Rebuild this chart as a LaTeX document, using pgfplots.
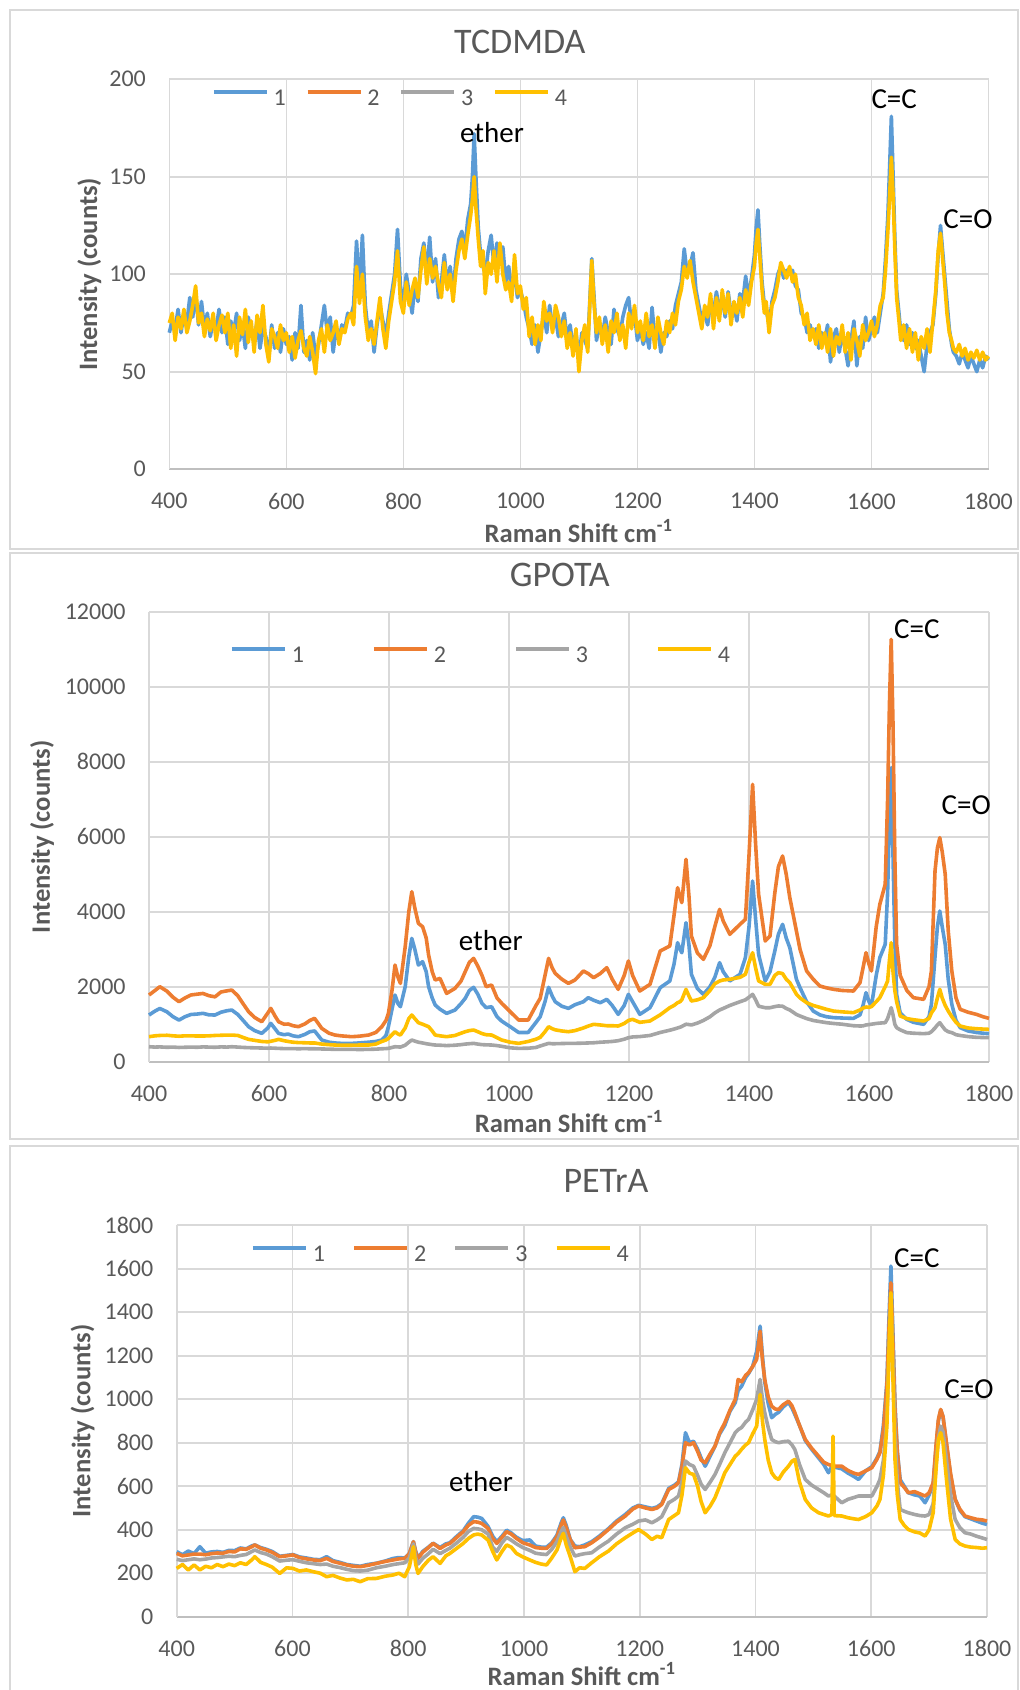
\documentclass[border=0pt]{standalone}
\usepackage{fontspec}
\setmainfont{Carlito}
\usepackage{pgfplots}
\usepackage{pgfplotstable}
\pgfplotsset{compat=1.18}

\definecolor{sone}{HTML}{5B9BD5}
\definecolor{stwo}{HTML}{ED7D31}
\definecolor{sthree}{HTML}{A5A5A5}
\definecolor{sfour}{HTML}{FFC000}
\definecolor{gridgray}{HTML}{D9D9D9}
\definecolor{axisgray}{HTML}{BFBFBF}
\definecolor{txtgray}{HTML}{595959}

% TCDMDA: series 2 and 3 are not visible in the chart
\pgfplotstableread{
x a d
400 70 75
405 76 80
410 72 66
415 82 78
420 70 72
425 80 82
430 75 70
435 88 76
440 78 84
445 90 94
450 74 75
455 86 80
460 72 68
465 80 77
470 68 71
475 76 80
480 72 66
485 82 74
490 70 79
495 78 70
500 64 80
505 76 62
510 70 74
515 80 58
520 66 78
525 74 69
530 62 82
535 78 65
540 70 76
545 66 60
550 76 79
555 62 70
560 72 84
565 68 64
570 58 55
575 74 72
580 62 68
585 70 62
590 60 74
595 72 66
600 64 70
605 68 60
610 56 68
615 70 57
620 62 66
625 84 71
630 60 62
635 66 58
640 56 68
645 70 60
650 58 49
655 64 66
660 74 72
665 84 60
670 70 74
675 78 66
680 60 70
685 72 76
690 66 64
695 74 72
700 72 70
705 80 77
710 78 80
715 84 74
720 117 104
725 90 85
730 120 100
735 84 78
740 70 66
745 76 72
750 60 64
755 74 76
760 84 88
765 76 72
770 68 62
775 80 76
780 90 86
785 100 96
790 123 112
795 94 86
800 84 80
805 100 96
810 90 84
815 80 92
820 96 98
825 86 88
830 108 102
835 116 114
840 100 95
845 119 108
850 96 98
855 108 104
860 88 95
865 96 88
870 110 106
875 94 92
880 104 100
885 90 86
890 108 102
895 118 112
900 122 118
905 112 108
910 128 120
915 136 130
918 150 138
921 172 150
924 150 134
928 124 118
932 110 104
936 104 112
940 100 90
945 112 106
950 120 100
955 104 112
960 116 96
965 108 116
970 114 100
975 96 92
980 104 96
985 92 86
990 100 110
995 88 90
1000 92 94
1005 86 82
1010 78 88
1015 72 68
1020 64 78
1025 74 64
1030 60 74
1035 70 66
1040 80 86
1045 70 76
1050 84 80
1055 72 70
1060 78 84
1065 68 78
1070 74 68
1075 80 76
1080 66 62
1085 74 70
1090 62 58
1095 70 72
1100 56 50
1105 70 66
1110 66 74
1115 62 60
1118 82 80
1122 108 107
1126 88 84
1130 66 70
1135 74 78
1140 68 64
1145 78 74
1150 70 60
1155 64 76
1160 82 70
1165 72 80
1170 68 66
1175 78 74
1180 84 62
1185 88 80
1190 74 72
1195 80 84
1200 66 70
1205 72 76
1210 64 66
1215 70 80
1220 62 68
1225 83 74
1230 66 62
1235 72 78
1240 60 70
1245 70 64
1250 68 76
1255 76 70
1260 72 80
1265 84 74
1270 90 86
1275 96 92
1280 113 104
1285 100 98
1290 104 107
1295 111 96
1300 92 88
1305 84 80
1310 76 72
1315 80 84
1320 74 78
1325 86 90
1330 80 72
1335 91 88
1340 82 76
1345 88 92
1350 78 80
1355 91 90
1360 80 74
1365 84 86
1370 76 80
1375 90 88
1380 86 78
1385 99 92
1390 88 84
1395 98 96
1400 110 104
1403 124 116
1406 133 123
1409 116 110
1413 96 92
1417 84 80
1420 82 86
1425 74 70
1430 86 84
1435 92 88
1440 100 96
1445 104 106
1450 98 102
1455 102 98
1460 100 104
1465 102 96
1470 94 100
1475 92 88
1480 80 84
1485 78 74
1490 70 80
1495 74 66
1500 68 72
1505 72 64
1510 62 74
1515 70 62
1520 66 70
1525 74 60
1530 55 72
1535 68 58
1540 72 68
1545 60 64
1550 70 74
1555 62 60
1560 53 70
1565 66 56
1570 76 72
1575 53 66
1580 68 58
1585 62 74
1590 78 66
1595 66 70
1600 72 76
1605 78 68
1610 70 74
1615 80 84
1620 90 88
1624 108 102
1628 130 122
1631 155 140
1634 181 160
1637 150 140
1640 118 112
1643 92 88
1647 80 76
1650 70 66
1655 66 74
1660 74 62
1665 64 72
1670 70 60
1675 62 70
1680 66 56
1685 58 68
1690 50 62
1695 64 72
1700 70 60
1705 74 76
1710 90 92
1714 110 112
1718 125 121
1721 114 110
1725 100 96
1729 86 80
1733 72 70
1737 64 66
1740 60 62
1745 58 60
1750 54 64
1755 60 58
1760 56 62
1765 52 56
1770 58 60
1775 54 57
1780 50 61
1785 56 56
1790 52 60
1795 58 56
1800 56 58
}\tcdmda

\pgfplotstableread{
x a b c d
400 1245 1778 400 667
410 1350 1900 390 690
418 1420 2000 395 700
430 1330 1880 385 705
440 1200 1720 390 690
450 1110 1600 380 680
460 1200 1700 385 690
470 1260 1780 390 690
480 1270 1800 385 685
490 1290 1820 395 685
500 1250 1760 390 690
510 1245 1730 385 700
520 1320 1860 395 705
530 1360 1890 390 710
538 1378 1911 400 711
548 1260 1760 390 700
558 1080 1520 380 640
566 934 1334 375 596
576 830 1180 370 570
588 756 1067 365 540
598 900 1300 360 530
603 1023 1422 365 545
610 880 1220 360 570
616 756 1067 355 596
625 720 1000 350 560
632 738 1005 350 540
640 690 960 350 520
649 667 934 345 510
660 730 1010 350 505
668 800 1100 345 500
676 820 1156 345 500
688 578 889 340 470
700 520 760 335 455
710 500 711 330 445
720 490 690 330 440
738 489 667 330 440
750 500 680 325 445
766 520 711 329 445
778 540 780 335 470
788 578 934 345 540
795 700 1100 350 580
799 934 1289 356 620
805 1400 1900 380 720
810 1778 2578 400 800
815 1550 2250 395 740
819 1467 2089 390 711
827 2000 3067 440 900
833 2800 4000 520 1150
838 3289 4534 578 1245
843 3000 4100 550 1150
849 2578 3690 520 1040
856 2667 3600 500 1000
862 2400 3300 480 960
866 2000 2845 470 934
872 1700 2400 455 820
877 1512 2178 445 711
885 1400 2222 440 690
896 1289 1822 430 667
910 1378 1956 440 700
920 1550 2150 455 760
927 1690 2400 470 800
934 1900 2650 480 830
941 1983 2756 489 845
948 1800 2550 470 800
955 1556 2300 455 750
962 1440 2000 450 720
971 1467 2045 445 711
980 1200 1700 430 640
988 1080 1556 410 578
1002 934 1334 370 520
1016 780 1112 356 489
1032 780 1112 360 540
1045 1050 1500 380 600
1052 1201 1690 420 650
1060 1600 2300 460 800
1066 1983 2756 489 934
1072 1750 2500 480 880
1077 1600 2356 480 850
1088 1480 2200 485 820
1099 1422 2089 489 800
1110 1520 2180 490 830
1124 1600 2419 495 900
1132 1708 2350 500 950
1141 1640 2241 505 997
1152 1574 2350 520 980
1163 1663 2508 530 960
1172 1500 2200 540 960
1182 1263 1930 560 952
1192 1500 2300 600 1020
1199 1797 2686 640 1100
1206 1600 2300 660 1130
1218 1263 1885 670 1050
1235 1441 2063 700 1086
1252 1975 2952 780 1250
1268 2152 3086 840 1441
1275 2600 3900 870 1500
1281 3175 4641 900 1574
1285 3000 4400 920 1600
1288 2908 4241 940 1650
1295 3708 5397 1000 1930
1300 3100 4400 990 1750
1304 2330 3352 980 1619
1314 1950 2900 1030 1650
1324 1797 2730 1100 1708
1335 2000 3100 1200 1900
1343 2250 3600 1300 2080
1351 2641 4063 1380 2152
1357 2400 3752 1420 2180
1368 2152 3397 1500 2197
1385 2330 3663 1600 2250
1394 2775 3797 1650 2330
1400 3600 5500 1720 2650
1406 4819 7397 1797 2908
1411 3800 5800 1650 2500
1416 2863 4464 1480 2152
1427 2152 3219 1440 2063
1435 2400 3352 1440 2063
1443 2952 4500 1470 2300
1449 3400 5200 1486 2375
1456 3663 5486 1480 2350
1462 3300 5000 1420 2200
1468 3041 4375 1380 2108
1479 2200 3486 1260 1800
1485 1975 3000 1219 1700
1496 1600 2419 1150 1574
1507 1352 2200 1100 1500
1518 1250 2019 1070 1450
1529 1200 1970 1041 1397
1541 1175 1930 1020 1350
1555 1165 1900 1000 1330
1574 1156 1885 960 1308
1585 1250 2108 952 1380
1590 1500 2500 955 1430
1595 1841 2908 980 1459
1600 1600 2600 990 1450
1604 1486 2419 1000 1470
1612 2300 3600 1020 1600
1618 2775 4197 1030 1708
1627 3130 4730 1041 2000
1631 4500 7000 1150 2152
1634 6500 9500 1300 2700
1637 7841 11263 1441 3175
1640 5500 9000 1250 2400
1643 3200 5500 1000 1900
1646 1797 3130 908 1600
1652 1300 2300 850 1219
1663 1130 1900 775 1150
1674 1050 1708 760 1120
1691 997 1663 748 1086
1700 1200 2000 760 1150
1704 1530 2419 800 1300
1710 2800 5086 900 1441
1714 3600 5700 980 1700
1718 4019 5975 1041 1930
1722 3600 5600 950 1700
1727 3130 5000 850 1500
1732 2200 3500 800 1352
1738 1530 2419 775 1200
1745 1100 1700 720 1050
1752 908 1397 700 952
1765 820 1320 670 900
1779 780 1263 650 880
1790 760 1200 645 870
1800 748 1156 641 863
}\gpota

\pgfplotstableread{
x a b c d
400 299 291 264 222
410 285 280 258 240
420 302 284 262 215
430 290 288 266 238
440 322 288 262 215
450 292 285 265 232
460 298 290 270 225
470 300 293 272 240
480 296 292 275 230
490 305 300 278 242
500 304 298 276 235
510 316 312 282 248
520 312 310 286 240
530 326 322 300 262
535 330 330 307 276
545 318 315 295 250
555 310 307 288 240
565 300 296 276 228
578 278 276 256 199
590 282 280 260 225
601 286 284 262 222
612 275 272 255 210
624 270 266 248 215
636 264 261 244 207
648 262 258 240 200
659 276 268 242 184
670 258 254 232 190
682 250 246 226 178
694 240 238 218 169
705 236 232 212 172
717 232 230 210 161
730 240 236 214 175
745 246 245 225 176
760 256 254 232 186
774 268 261 240 192
784 272 266 244 200
794 270 268 248 184
802 290 290 270 230
809 345 345 335 322
813 300 295 270 240
817 270 268 242 199
825 300 296 268 230
835 320 318 290 260
843 338 337 310 276
855 318 314 290 245
865 335 330 305 280
872 340 337 315 291
884 370 365 340 315
895 395 391 365 337
904 430 420 392 360
913 460 437 406 376
920 458 435 404 380
927 452 429 400 376
938 415 406 380 352
946 370 360 320 300
953 345 337 300 261
962 370 365 340 300
970 398 391 365 330
978 385 380 352 320
987 365 360 335 291
998 350 340 318 275
1010 353 330 305 261
1020 325 318 292 250
1030 320 315 288 242
1039 320 314 286 238
1048 340 335 310 270
1057 375 368 345 307
1064 430 420 390 360
1068 455 445 410 383
1073 420 410 370 330
1080 355 353 320 276
1088 325 317 279 207
1096 322 320 285 225
1105 330 322 290 222
1117 345 340 294 248
1130 370 365 320 275
1146 405 401 348 302
1160 440 435 380 335
1175 470 463 409 363
1188 500 495 425 385
1198 512 509 440 401
1210 505 500 445 380
1221 498 493 432 355
1230 505 500 445 370
1238 520 516 460 363
1250 590 585 524 447
1260 605 600 540 465
1267 620 616 555 478
1273 700 690 620 560
1279 846 800 716 685
1286 800 790 700 660
1293 807 800 692 654
1300 770 760 650 600
1306 730 720 610 530
1313 692 708 585 478
1322 740 750 620 510
1330 784 784 654 547
1338 840 845 700 600
1347 880 892 754 662
1356 945 950 800 700
1365 984 999 846 738
1370 1040 1091 860 750
1376 1060 1080 870 770
1383 1100 1110 895 790
1388 1118 1122 907 800
1395 1150 1150 950 840
1402 1220 1183 999 876
1408 1336 1313 1091 1022
1412 1200 1180 1000 900
1416 1080 1091 938 815
1422 980 1010 870 720
1428 915 968 815 662
1434 930 955 805 640
1440 940 953 800 631
1448 965 975 805 665
1457 985 991 807 692
1463 960 970 790 715
1468 930 938 769 723
1476 880 880 700 620
1486 810 815 631 539
1497 770 775 605 500
1509 730 738 585 478
1518 700 710 570 470
1526 662 700 555 463
1532 690 695 560 470
1534 690 695 560 830
1536 688 692 555 465
1549 680 692 524 463
1560 660 672 540 455
1570 645 660 548 450
1578 631 654 555 447
1590 670 670 555 460
1601 690 685 555 478
1610 730 725 600 510
1615 760 754 631 539
1621 880 860 720 650
1627 1080 1060 900 876
1631 1400 1350 1250 1250
1634 1612 1535 1459 1489
1637 1350 1300 1200 1150
1641 980 953 850 723
1645 760 760 620 560
1650 630 616 493 447
1657 600 595 485 420
1664 570 570 478 401
1675 560 575 470 390
1684 555 565 465 385
1693 524 555 463 371
1700 560 570 470 400
1707 610 616 520 478
1712 780 790 700 680
1716 900 907 820 815
1720 950 953 876 846
1724 920 920 850 800
1730 790 800 720 631
1737 650 660 560 450
1745 540 539 447 355
1753 490 495 410 335
1762 460 463 386 325
1772 450 455 380 320
1782 440 448 370 318
1792 430 445 362 315
1800 424 440 355 317
}\petra

\newcommand{\tickfont}{\fontsize{12}{14}\selectfont}
\newcommand{\labfont}{\fontsize{13.3}{15}\selectfont\bfseries}
\newcommand{\notefont}{\fontsize{14.5}{16}\selectfont}

\pgfplotsset{
  raman/.style={
    scale only axis,
    clip=false,
    xmin=400, xmax=1800,
    xtick={400,600,...,1800},
    enlargelimits=false,
    axis x line*=bottom,
    axis y line*=left,
    x axis line style={-, draw=axisgray, line width=0.8pt},
    y axis line style={-, draw=gridgray, line width=0.8pt},
    grid=major,
    major grid style={draw=gridgray, line width=0.8pt},
    major tick length=0pt,
    scaled y ticks=false,
    /pgf/number format/assume math mode=true,
    /pgf/number format/1000 sep={},
    ticklabel style={font=\tickfont, text=txtgray},
    xticklabel style={anchor=center, inner sep=0pt, yshift=-16pt},
    yticklabel style={anchor=east, inner sep=0pt, xshift=-11.5pt},
    xlabel={Raman Shift cm\textsuperscript{-1}},
    ylabel={Intensity (counts)},
    label style={font=\labfont, text=txtgray},
    title style={font=\fontsize{18}{20}\selectfont, text=txtgray, anchor=center},
    legend columns=4,
    legend image code/.code={\draw[#1, line width=1.9pt] (0pt,3.6pt) -- (26.5pt,3.6pt);},
    legend style={draw=none, fill=none, inner sep=0pt, outer sep=0pt, anchor=west,
      font=\tickfont, text=txtgray,
      nodes={inner sep=0pt, outer sep=0pt},
      /tikz/every odd column/.append style={column sep=2.5pt}},
    every axis plot/.append style={line width=1.8pt, line join=round},
  },
}

\begin{document}
\begin{tikzpicture}
\useasboundingbox (0,0) rectangle (510pt,-845pt);
\draw[gridgray, line width=1pt] (5pt,-5pt) rectangle (509pt,-274.5pt);
\draw[gridgray, line width=1pt] (5pt,-276.5pt) rectangle (509pt,-569.5pt);
\draw[gridgray, line width=1pt] (5pt,-573pt) rectangle (509pt,-860pt);

% TCDMDA
\begin{axis}[raman,
  at={(84.65pt,-234.6pt)}, anchor=south west,
  width=409.6pt, height=195pt,
  ymin=0, ymax=200, ytick={0,50,...,200},
  title={TCDMDA},
  title style={at={(axis description cs:0.428,1.0646)}},
  xlabel style={at={(axis description cs:0.5,-0.159)}, anchor=center},
  ylabel style={at={(axis description cs:-0.0977,0.5)}, anchor=center},
  legend style={at={(0.052,0.949)},
    /tikz/every even column/.append style={column sep=9.9pt}},
]
\addplot[sone] table[x=x,y=a]{\tcdmda};
\addlegendentry{1}
\addlegendimage{stwo}
\addlegendentry{2}
\addlegendimage{sthree}
\addlegendentry{3}
\addplot[sfour] table[x=x,y=d]{\tcdmda};
\addlegendentry{4}
\node[font=\notefont] at (axis cs:951.6,172.4) {ether};
\node[font=\notefont] at (axis cs:1638.8,189.8) {C=C};
\node[font=\notefont] at (axis cs:1765,128.3) {C=O};
\end{axis}

% GPOTA
\begin{axis}[raman,
  at={(74.5pt,-530.85pt)}, anchor=south west,
  width=420pt, height=225pt,
  ymin=0, ymax=12000, ytick={0,2000,...,12000},
  title={GPOTA},
  title style={at={(axis description cs:0.489,1.0549)}},
  xlabel style={at={(axis description cs:0.5,-0.1333)}, anchor=center},
  ylabel style={at={(axis description cs:-0.1274,0.5)}, anchor=center},
  legend style={at={(0.0965,0.9007)},
    /tikz/every even column/.append style={column sep=34pt}},
]
\addplot[sone] table[x=x,y=a]{\gpota};
\addlegendentry{1}
\addplot[stwo] table[x=x,y=b]{\gpota};
\addlegendentry{2}
\addplot[sthree] table[x=x,y=c]{\gpota};
\addlegendentry{3}
\addplot[sfour] table[x=x,y=d]{\gpota};
\addlegendentry{4}
\node[font=\notefont] at (axis cs:969.7,3232) {ether};
\node[font=\notefont] at (axis cs:1679.7,11544) {C=C};
\node[font=\notefont] at (axis cs:1762,6832) {C=O};
\end{axis}

% PETrA
\begin{axis}[raman,
  at={(88.35pt,-808.35pt)}, anchor=south west,
  width=405.15pt, height=195.75pt,
  ymin=0, ymax=1800, ytick={0,200,...,1800},
  title={PETrA},
  title style={at={(axis description cs:0.5298,1.0823)}},
  xlabel style={at={(axis description cs:0.5,-0.146)}, anchor=center},
  ylabel style={at={(axis description cs:-0.116,0.5)}, anchor=center},
  legend style={at={(0.0917,0.924)},
    /tikz/every even column/.append style={column sep=13.65pt}},
]
\addplot[sone] table[x=x,y=a]{\petra};
\addlegendentry{1}
\addplot[stwo] table[x=x,y=b]{\petra};
\addlegendentry{2}
\addplot[sthree] table[x=x,y=c]{\petra};
\addlegendentry{3}
\addplot[sfour] table[x=x,y=d]{\petra};
\addlegendentry{4}
\node[font=\notefont] at (axis cs:925.7,620.7) {ether};
\node[font=\notefont] at (axis cs:1678.7,1648) {C=C};
\node[font=\notefont] at (axis cs:1768.9,1047) {C=O};
\end{axis}
\end{tikzpicture}
\end{document}
